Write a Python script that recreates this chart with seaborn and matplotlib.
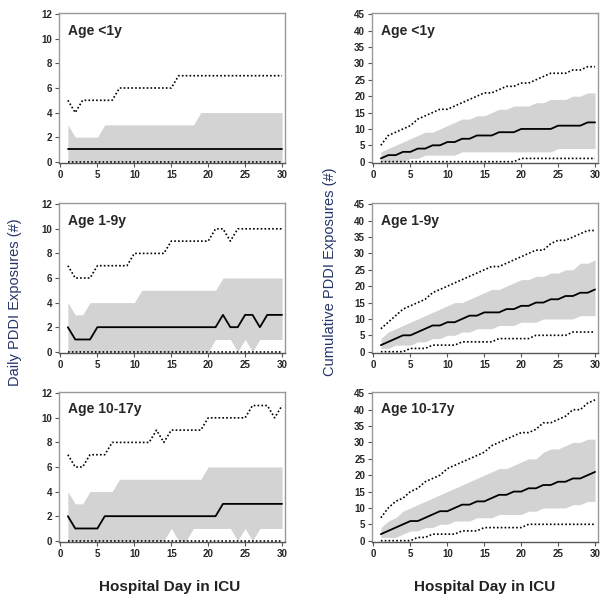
import numpy as np
import pandas as pd
import matplotlib
matplotlib.use("Agg")
import matplotlib.pyplot as plt
import seaborn as sns

days = list(range(1, 31))
groups = ["Age <1y", "Age 1-9y", "Age 10-17y"]

# daily exposures: median, IQR band (lo/hi), outer dotted range (lo/hi)
daily_med = {
    "Age <1y": [1] * 30,
    "Age 1-9y": [2, 1, 1, 1] + [2] * 17 + [3, 2, 2, 3, 3, 2, 3, 3, 3],
    "Age 10-17y": [2, 1, 1, 1, 1] + [2] * 16 + [3] * 9,
}
daily_q1 = {
    "Age <1y": [0] * 30,
    "Age 1-9y": [0] * 20 + [1, 1, 1, 0, 1, 0, 1, 1, 1, 1],
    "Age 10-17y": [0] * 14 + [1, 0, 0] + [1] * 6 + [0, 1, 0, 1, 1, 1, 1],
}
daily_q3 = {
    "Age <1y": [3, 2, 2, 2, 2] + [3] * 13 + [4] * 12,
    "Age 1-9y": [4, 3, 3] + [4] * 7 + [5] * 11 + [6] * 9,
    "Age 10-17y": [4, 3, 3, 4, 4, 4, 4] + [5] * 12 + [6] * 11,
}
daily_min = {
    "Age <1y": [0] * 30,
    "Age 1-9y": [0] * 30,
    "Age 10-17y": [0] * 30,
}
daily_max = {
    "Age <1y": [5, 4] + [5] * 5 + [6] * 8 + [7] * 15,
    "Age 1-9y": [7, 6, 6, 6] + [7] * 5 + [8] * 5 + [9] * 6 + [10, 10, 9] + [10] * 7,
    "Age 10-17y": [7, 6, 6, 7, 7, 7] + [8] * 6 + [9, 8] + [9] * 5 + [10] * 6 + [11, 11, 11, 10, 11],
}

# cumulative exposures
cum_med = {
    "Age <1y": [1, 2, 2, 3, 3, 4, 4, 5, 5, 6, 6, 7, 7, 8, 8, 8, 9, 9, 9, 10,
                10, 10, 10, 10, 11, 11, 11, 11, 12, 12],
    "Age 1-9y": [2, 3, 4, 5, 5, 6, 7, 8, 8, 9, 9, 10, 11, 11, 12, 12, 12, 13, 13, 14,
                 14, 15, 15, 16, 16, 17, 17, 18, 18, 19],
    "Age 10-17y": [2, 3, 4, 5, 6, 6, 7, 8, 9, 9, 10, 11, 11, 12, 12, 13, 14, 14, 15, 15,
                   16, 16, 17, 17, 18, 18, 19, 19, 20, 21],
}
cum_q1 = {
    "Age <1y": [0, 0, 0, 0, 1, 1, 2, 2, 2, 2, 2, 3, 3, 3, 3, 3, 3, 3, 3, 3,
                3, 3, 3, 3, 4, 4, 4, 4, 4, 4],
    "Age 1-9y": [1, 1, 2, 2, 2, 3, 3, 4, 4, 5, 5, 6, 6, 7, 7, 7, 8, 8, 8, 9,
                 9, 9, 10, 10, 10, 10, 10, 11, 11, 11],
    "Age 10-17y": [1, 1, 1, 2, 3, 3, 4, 4, 5, 5, 6, 6, 6, 7, 7, 7, 8, 8, 8, 8,
                   9, 9, 10, 10, 10, 10, 11, 11, 12, 12],
}
cum_q3 = {
    "Age <1y": [3, 4, 5, 6, 7, 8, 9, 9, 10, 11, 12, 13, 13, 14, 14, 15, 16, 16, 17, 17,
                17, 18, 18, 19, 19, 19, 20, 20, 21, 21],
    "Age 1-9y": [4, 6, 7, 8, 9, 10, 11, 12, 13, 14, 15, 15, 16, 17, 18, 19, 19, 20, 21, 22,
                 22, 23, 23, 24, 24, 25, 25, 27, 27, 28],
    "Age 10-17y": [4, 6, 7, 9, 10, 11, 12, 13, 14, 15, 16, 17, 18, 19, 20, 21, 22, 22, 23, 24,
                   25, 25, 27, 28, 28, 29, 30, 30, 31, 31],
}
cum_min = {
    "Age <1y": [0] * 19 + [1] * 11,
    "Age 1-9y": [0, 0, 0, 0, 1, 1, 1, 2, 2, 2, 2, 3, 3, 3, 3, 3, 4, 4, 4, 4,
                 4, 5, 5, 5, 5, 5, 6, 6, 6, 6],
    "Age 10-17y": [0, 0, 0, 0, 0, 1, 1, 2, 2, 2, 2, 3, 3, 3, 4, 4, 4, 4, 4, 4,
                   5, 5, 5, 5, 5, 5, 5, 5, 5, 5],
}
cum_max = {
    "Age <1y": [5, 8, 9, 10, 11, 13, 14, 15, 16, 16, 17, 18, 19, 20, 21, 21, 22, 23, 23, 24,
                24, 25, 26, 27, 27, 27, 28, 28, 29, 29],
    "Age 1-9y": [7, 9, 11, 13, 14, 15, 16, 18, 19, 20, 21, 22, 23, 24, 25, 26, 26, 27, 28, 29,
                 30, 31, 31, 33, 34, 34, 35, 36, 37, 37],
    "Age 10-17y": [7, 10, 12, 13, 15, 16, 18, 19, 20, 22, 23, 24, 25, 26, 27, 29, 30, 31, 32, 33,
                   33, 34, 36, 36, 37, 38, 40, 40, 42, 43],
}

sns.set_style("white")
plt.rcParams['font.family'] = ['Liberation Sans', 'DejaVu Sans']

fig = plt.figure(figsize=(6.11, 6.04), dpi=100)
lefts = [59 / 611, 372 / 611]
width = 226 / 611
bottoms = [1 - 163 / 604, 1 - 353 / 604, 1 - 542 / 604]
height = 150 / 604

panels = [
    (daily_med, daily_q1, daily_q3, daily_min, daily_max, (-0.1, 12.1), np.arange(0, 13, 2)),
    (cum_med, cum_q1, cum_q3, cum_min, cum_max, (-0.4, 45.4), np.arange(0, 46, 5)),
]

for col, (med, q1, q3, lo, hi, ylim, yticks) in enumerate(panels):
    for row, g in enumerate(groups):
        ax = fig.add_axes([lefts[col], bottoms[row], width, height])
        df = pd.DataFrame({"day": days, "med": med[g], "q1": q1[g], "q3": q3[g],
                           "lo": lo[g], "hi": hi[g]})
        ax.fill_between(df["day"], df["q1"], df["q3"], color="#d3d3d3", lw=0)
        sns.lineplot(data=df, x="day", y="med", ax=ax, color="black", lw=1.3)
        sns.lineplot(data=df, x="day", y="hi", ax=ax, color="black", lw=1.2, ls=(0, (1, 1.3)))
        sns.lineplot(data=df, x="day", y="lo", ax=ax, color="black", lw=1.2, ls=(0, (1, 1.3)))
        ax.set_xlim(-0.2, 30.4)
        ax.set_ylim(*ylim)
        ax.set_xticks(range(0, 31, 5))
        ax.set_yticks(yticks)
        ax.set_xlabel("")
        ax.set_ylabel("")
        for s in ax.spines.values():
            s.set_color("#999999")
            s.set_linewidth(1.0)
        ax.spines["bottom"].set_color("#555555")
        ax.tick_params(axis="both", length=3, width=0.8, color="#555555",
                       labelsize=7, pad=2, bottom=True, left=True)
        for lab in ax.get_xticklabels() + ax.get_yticklabels():
            lab.set_fontweight("bold")
        ax.text(0.04, 0.93, g, transform=ax.transAxes, fontsize=10,
                fontweight="bold", va="top", ha="left")

label_color = "#26346a"
fig.text(15 / 611, 1 - 302 / 604, "Daily PDDI Exposures (#)", rotation=90,
         ha="center", va="center", fontsize=10.5, color=label_color)
fig.text(330 / 611, 1 - 272 / 604, "Cumulative PDDI Exposures (#)", rotation=90,
         ha="center", va="center", fontsize=10.5, color=label_color)
fig.text(170 / 611, 1 - 587 / 604, "Hospital Day in ICU", ha="center", va="center",
         fontsize=11, fontweight="bold", color="#222222")
fig.text(485 / 611, 1 - 587 / 604, "Hospital Day in ICU", ha="center", va="center",
         fontsize=11, fontweight="bold", color="#222222")

fig.savefig("out.png", dpi=100)
